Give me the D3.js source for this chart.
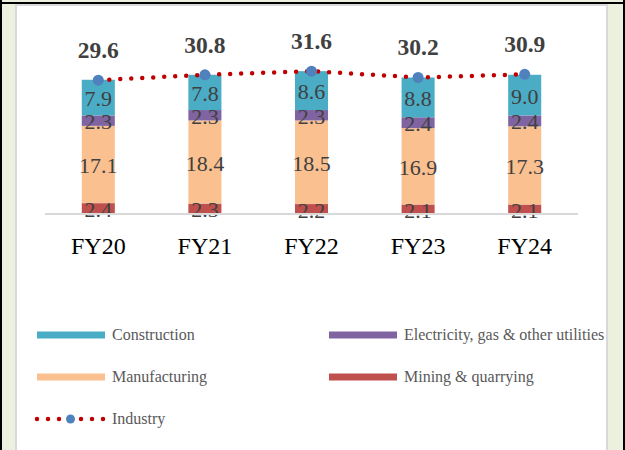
<!DOCTYPE html>
<html>
<head>
    <meta charset='utf-8' />
    <title>Industry GVA</title>
    <script src="https://cdn.jsdelivr.net/npm/d3@7"></script>
    <style>
        body { margin: 0; padding: 0; background: #ebf1de; }
        svg { display: block; }
        .seg-label { font-family: "Liberation Serif", "Times New Roman", serif; font-size: 22px; fill: #404040; }
        .top-label { font-family: "Liberation Serif", "Times New Roman", serif; font-size: 23.5px; font-weight: bold; fill: #404040; }
        .cat-label { font-family: "Liberation Serif", "Times New Roman", serif; font-size: 24px; fill: #000; }
        .legend-text { font-family: "Liberation Serif", "Times New Roman", serif; font-size: 16px; fill: #595959; }
    </style>
</head>
<body>
    <div id='chart'></div>
    <script>
        var categories = ["FY20", "FY21", "FY22", "FY23", "FY24"];
        var mining = [2.4, 2.3, 2.2, 2.1, 2.1];
        var manufacturing = [17.1, 18.4, 18.5, 16.9, 17.3];
        var electricity = [2.3, 2.3, 2.3, 2.4, 2.4];
        var construction = [7.9, 7.8, 8.6, 8.8, 9.0];
        var industry = [29.6, 30.8, 31.6, 30.2, 30.9];

        // stacking order bottom -> top
        var series = [
            { name: "Mining & quarrying", values: mining, color: "#c0504d" },
            { name: "Manufacturing", values: manufacturing, color: "#fac090" },
            { name: "Electricity, gas & other utilities", values: electricity, color: "#8064a2" },
            { name: "Construction", values: construction, color: "#4bacc6" }
        ];

        var W = 625, H = 450;
        var svg = d3.select("#chart").append("svg").attr("width", W).attr("height", H);

        // frame
        svg.append("rect").attr("x", 0).attr("y", 0).attr("width", W).attr("height", H).attr("fill", "#ebf1de");
        svg.append("rect").attr("x", 0).attr("y", 0).attr("width", 2).attr("height", H).attr("fill", "#000");
        svg.append("rect").attr("x", 623).attr("y", 0).attr("width", 2).attr("height", H).attr("fill", "#000");
        svg.append("rect").attr("x", 0).attr("y", 2).attr("width", W).attr("height", 2).attr("fill", "#000");
        svg.append("rect").attr("x", 16).attr("y", 5).attr("width", 591).attr("height", 460)
            .attr("fill", "#fff").attr("stroke", "#d9d9d9").attr("stroke-width", 2);

        var x = d3.scaleBand().domain(categories).range([45, 578]);
        var y = d3.scaleLinear().domain([0, 35]).range([214, 214 - 35 * 4.52]);
        var barW = x.bandwidth() * 0.31;

        var rows = categories.map(function (c, i) {
            var r = { cat: c };
            series.forEach(function (s) { r[s.name] = s.values[i]; });
            return r;
        });
        var stacked = d3.stack().keys(series.map(function (s) { return s.name; }))(rows);

        var g = svg.append("g");
        stacked.forEach(function (layer, k) {
            var lg = g.append("g").attr("fill", series[k].color);
            lg.selectAll("rect").data(layer).enter().append("rect")
                .attr("x", function (d) { return x(d.data.cat) + (x.bandwidth() - barW) / 2; })
                .attr("y", function (d) { return y(d[1]); })
                .attr("width", barW)
                .attr("height", function (d) { return y(d[0]) - y(d[1]); });
        });

        // axis line
        svg.append("line").attr("x1", 45).attr("x2", 578).attr("y1", y(0)).attr("y2", y(0))
            .attr("stroke", "#d9d9d9").attr("stroke-width", 2);

        // segment labels
        stacked.forEach(function (layer, k) {
            g.selectAll(null).data(layer).enter().append("text")
                .attr("class", "seg-label")
                .attr("text-anchor", "middle")
                .attr("dominant-baseline", "central")
                .attr("x", function (d) { return x(d.data.cat) + x.bandwidth() / 2; })
                .attr("y", function (d) { return (y(d[0]) + y(d[1])) / 2 + 1; })
                .text(function (d, i) { return series[k].values[i].toFixed(1); });
        });

        // industry line
        var cx = function (d, i) { return x(categories[i]) + x.bandwidth() / 2; };
        var line = d3.line().x(cx).y(function (d) { return y(d); });
        svg.append("path").datum(industry).attr("d", line)
            .attr("fill", "none").attr("stroke", "#c00000").attr("stroke-width", 4.5)
            .attr("stroke-linecap", "round").attr("stroke-dasharray", "0 11");
        svg.selectAll("circle.mk").data(industry).enter().append("circle")
            .attr("class", "mk")
            .attr("cx", cx).attr("cy", function (d) { return y(d); })
            .attr("r", 5.5).attr("fill", "#4f81bd");
        svg.selectAll("text.top-label").data(industry).enter().append("text")
            .attr("class", "top-label")
            .attr("text-anchor", "middle")
            .attr("x", cx).attr("y", function (d) { return y(d) - 22; })
            .text(function (d) { return d.toFixed(1); });

        // category labels
        svg.selectAll("text.cat-label").data(categories).enter().append("text")
            .attr("class", "cat-label")
            .attr("text-anchor", "middle")
            .attr("x", function (d) { return x(d) + x.bandwidth() / 2; })
            .attr("y", 254)
            .text(function (d) { return d; });

        // legend
        var legendItems = [
            { name: "Construction", color: "#4bacc6", x: 37, y: 335 },
            { name: "Electricity, gas & other utilities", color: "#8064a2", x: 329, y: 335 },
            { name: "Manufacturing", color: "#fac090", x: 37, y: 377 },
            { name: "Mining & quarrying", color: "#c0504d", x: 329, y: 377 }
        ];
        var lgd = svg.append("g");
        legendItems.forEach(function (it) {
            lgd.append("rect").attr("x", it.x).attr("y", it.y - 3.5).attr("width", 68).attr("height", 7).attr("fill", it.color);
            lgd.append("text").attr("class", "legend-text").attr("x", it.x + 75).attr("y", it.y + 5).text(it.name);
        });
        lgd.append("line").attr("x1", 37).attr("x2", 104).attr("y1", 419).attr("y2", 419)
            .attr("stroke", "#c00000").attr("stroke-width", 4.5).attr("stroke-linecap", "round")
            .attr("stroke-dasharray", "0 11");
        lgd.append("circle").attr("cx", 70.5).attr("cy", 419).attr("r", 4.5).attr("fill", "#4f81bd");
        lgd.append("text").attr("class", "legend-text").attr("x", 112).attr("y", 424).text("Industry");
    </script>
</body>
</html>
